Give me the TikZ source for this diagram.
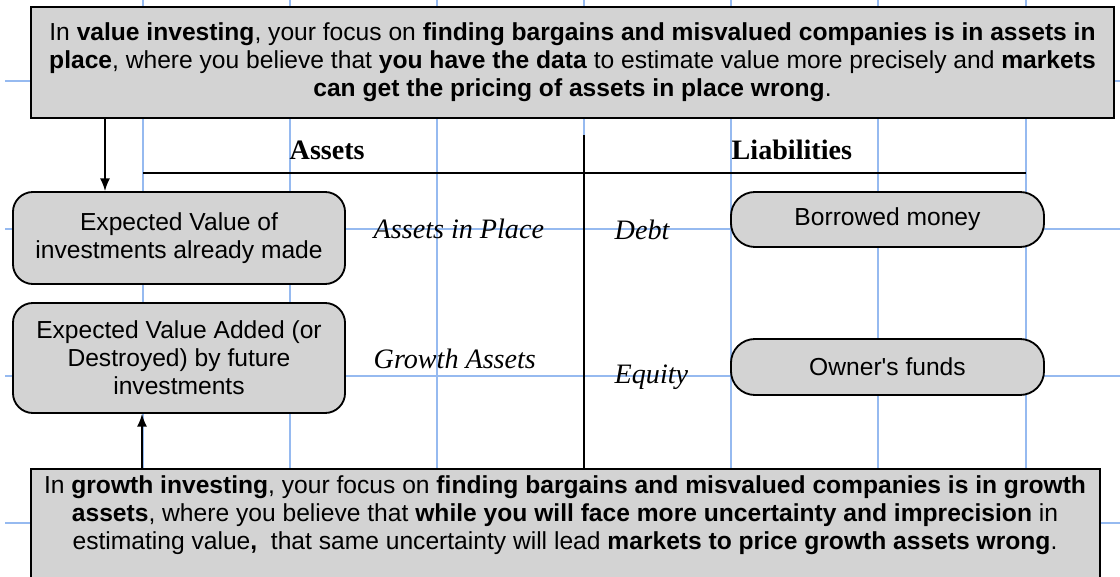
\documentclass[tikz,border=0pt]{standalone}
\usepackage{fontspec}
\setmainfont{Liberation Serif}
\setsansfont{Liberation Sans}
\usetikzlibrary{arrows.meta}
\definecolor{boxgray}{RGB}{211,211,211}
\definecolor{gridblue}{RGB}{150,186,240}

\begin{document}
\begin{tikzpicture}[x=0.025cm,y=-0.025cm,>={Latex[length=9pt,width=7pt]},line width=1pt]
  \tikzstyle{notebox}=[draw, fill=boxgray, line width=1.3pt, align=center,
    font=\sffamily\fontsize{17.5}{20}\selectfont]
  \tikzstyle{itembox}=[draw, fill=boxgray, line width=1.3pt, rounded corners=0.5cm, align=center,
    font=\sffamily\fontsize{17.5}{20}\selectfont]
  \tikzstyle{colhead}=[anchor=base west, inner sep=0pt, font=\bfseries\fontsize{20}{24}\selectfont]
  \tikzstyle{rowlabel}=[anchor=base west, inner sep=0pt, font=\itshape\fontsize{20}{24}\selectfont]
  \tikzstyle{gridline}=[gridblue, line width=0.9pt]

  \useasboundingbox (0,0) rectangle (1120,577);

  % blue grid behind everything
  \foreach \x in {143,290,437,584,731,878,1026}
    \draw[gridline] (\x,0) -- (\x,577);
  \foreach \y in {81,229,376,523}
    \draw[gridline] (5,\y) -- (1120,\y);

  % balance sheet frame
  \node[colhead] (assets) at (289,160) {Assets};
  \node[colhead] (liab) at (731,160) {Liabilities};
  \draw (143,173) -- (1026,173);
  \draw (584,135) -- (584,468);

  % asset side
  \node[itembox, minimum width=8.3cm, minimum height=2.3cm] (inplace) at (179,238)
    {Expected Value of\\investments already made};
  \node[itembox, minimum width=8.3cm, minimum height=2.75cm] (growth) at (179,358)
    {Expected Value Added (or\\Destroyed) by future\\investments};
  \node[rowlabel] (lblinplace) at (373,239) {Assets in Place};
  \node[rowlabel] (lblgrowth) at (373,368) {Growth Assets};

  % liability side
  \node[rowlabel] (lbldebt) at (614,240) {Debt};
  \node[rowlabel] (lblequity) at (614,383) {Equity};
  \node[itembox, rounded corners=0.6cm, minimum width=7.825cm, minimum height=1.375cm] (debt) at (887.5,219.5)
    {Borrowed money};
  \node[itembox, rounded corners=0.6cm, minimum width=7.825cm, minimum height=1.4cm] (equity) at (887.5,367)
    {Owner\textquotesingle s funds};

  % the two notes
  \node[notebox, minimum width=27.075cm, minimum height=2.775cm] (valuenote) at (572.5,62.5)
    {In \textbf{value investing}, your focus on \textbf{finding bargains and misvalued companies is in assets in}\\
     \textbf{place}, where you believe that \textbf{you have the data} to estimate value more precisely and \textbf{markets}\\
     \textbf{can get the pricing of assets in place wrong}.};
  \node[notebox, minimum width=26.725cm, minimum height=4cm, anchor=north] (growthbox) at (565.5,468) {};
  \node[font=\sffamily\fontsize{17.5}{20}\selectfont, align=center, inner sep=0pt] (growthnote) at (565,515)
    {In \textbf{growth investing}, your focus on \textbf{finding bargains and misvalued companies is in growth}\\
     \textbf{assets}, where you believe that \textbf{while you will face more uncertainty and imprecision} in\\
     estimating value\textbf{,}\ \ that same uncertainty will lead \textbf{markets to price growth assets wrong}.};

  % arrows
  \coordinate (downx) at (105,0);
  \coordinate (upx) at (142,0);
  \draw[->] (valuenote.south -| downx) -- (inplace.north -| downx);
  \draw[->] (growthbox.north -| upx) -- (growth.south -| upx);
\end{tikzpicture}
\end{document}
